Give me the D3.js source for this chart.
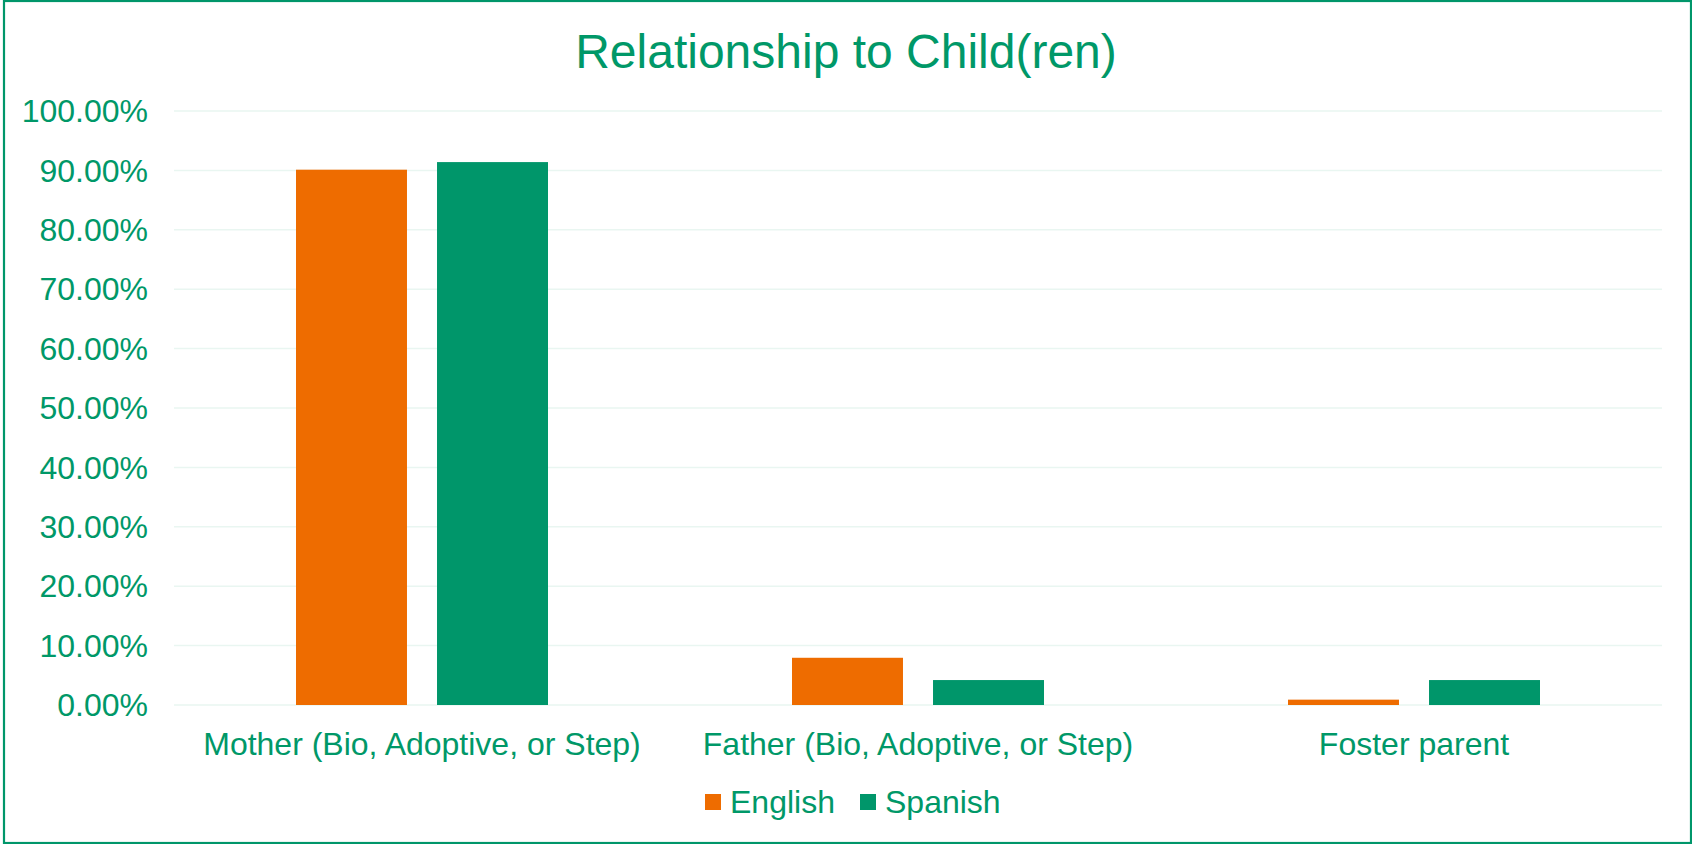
<!DOCTYPE html>
<html>
<head>
<meta charset="utf-8">
<script src="https://cdn.jsdelivr.net/npm/d3@7"></script>
<style>
  html, body { margin: 0; padding: 0; background: #fff; }
  svg { display: block; font-family: "Liberation Sans", Arial, sans-serif; }
</style>
</head>
<body>
<div id="chart"></div>
<script>
// data
const categories = ["Mother (Bio, Adoptive, or Step)", "Father (Bio, Adoptive, or Step)", "Foster parent"];
const seriesNames = ["English", "Spanish"];
const englishValues = [0.9012, 0.0795, 0.0090];
const spanishValues = [0.9140, 0.0420, 0.0420];
const yTicks = [0, 0.1, 0.2, 0.3, 0.4, 0.5, 0.6, 0.7, 0.8, 0.9, 1.0];
const title = "Relationship to Child(ren)";

const W = 1692, H = 844;
const green = "#00966a", orange = "#ee6c00";
const colors = { English: orange, Spanish: green };
const textGreen = "#009868";

const svg = d3.select("#chart").append("svg")
  .attr("width", W).attr("height", H);

// outer frame
svg.append("rect")
  .attr("x", 4).attr("y", 1)
  .attr("width", 1687).attr("height", 842)
  .attr("fill", "#fff")
  .attr("stroke", green)
  .attr("stroke-width", 2.2);

svg.append("text")
  .attr("x", 846).attr("y", 68)
  .attr("text-anchor", "middle")
  .style("font-size", "48px")
  .style("fill", textGreen)
  .text(title);

const plot = { left: 174, right: 1662, top: 111, bottom: 705 };

const y = d3.scaleLinear().domain([0, 1]).range([plot.bottom, plot.top]);

const x0 = d3.scaleBand().domain(categories).range([plot.left, plot.right]);
const groupW = 252;
const x1 = d3.scaleBand().domain(seriesNames)
  .range([(x0.bandwidth() - groupW) / 2, (x0.bandwidth() + groupW) / 2])
  .paddingInner(0.213);

// gridlines
svg.append("g")
  .selectAll("line")
  .data(yTicks)
  .join("line")
  .attr("x1", plot.left).attr("x2", plot.right)
  .attr("y1", d => y(d)).attr("y2", d => y(d))
  .attr("stroke", "#e9f6f1")
  .attr("stroke-width", 1.5);

// y axis labels
const fmt = d3.format(".2%");
svg.append("g")
  .selectAll("text")
  .data(yTicks)
  .join("text")
  .attr("x", 148)
  .attr("y", d => y(d))
  .attr("dy", "0.35em")
  .attr("text-anchor", "end")
  .style("font-size", "32px")
  .style("fill", textGreen)
  .text(d => fmt(d));

// bars
const rows = categories.map((c, i) => ({
  cat: c,
  values: [
    { name: "English", value: englishValues[i] },
    { name: "Spanish", value: spanishValues[i] }
  ]
}));

const groups = svg.append("g")
  .selectAll("g")
  .data(rows)
  .join("g")
  .attr("transform", d => `translate(${x0(d.cat)},0)`);

groups.selectAll("rect")
  .data(d => d.values)
  .join("rect")
  .attr("x", d => x1(d.name))
  .attr("width", x1.bandwidth())
  .attr("y", d => y(d.value))
  .attr("height", d => y(0) - y(d.value))
  .attr("fill", d => colors[d.name]);

// category labels
svg.append("g")
  .selectAll("text")
  .data(categories)
  .join("text")
  .attr("x", d => x0(d) + x0.bandwidth() / 2)
  .attr("y", 755)
  .attr("text-anchor", "middle")
  .style("font-size", "32px")
  .style("fill", textGreen)
  .text(d => d);

// legend
const legendX = [705, 860];
const legend = svg.append("g")
  .selectAll("g")
  .data(seriesNames)
  .join("g")
  .attr("transform", (d, i) => `translate(${legendX[i]},0)`);

legend.append("rect")
  .attr("x", 0).attr("y", 794)
  .attr("width", 16).attr("height", 16)
  .attr("fill", d => colors[d]);

legend.append("text")
  .attr("x", 25).attr("y", 813)
  .style("font-size", "32px")
  .style("fill", textGreen)
  .text(d => d);
</script>
</body>
</html>
